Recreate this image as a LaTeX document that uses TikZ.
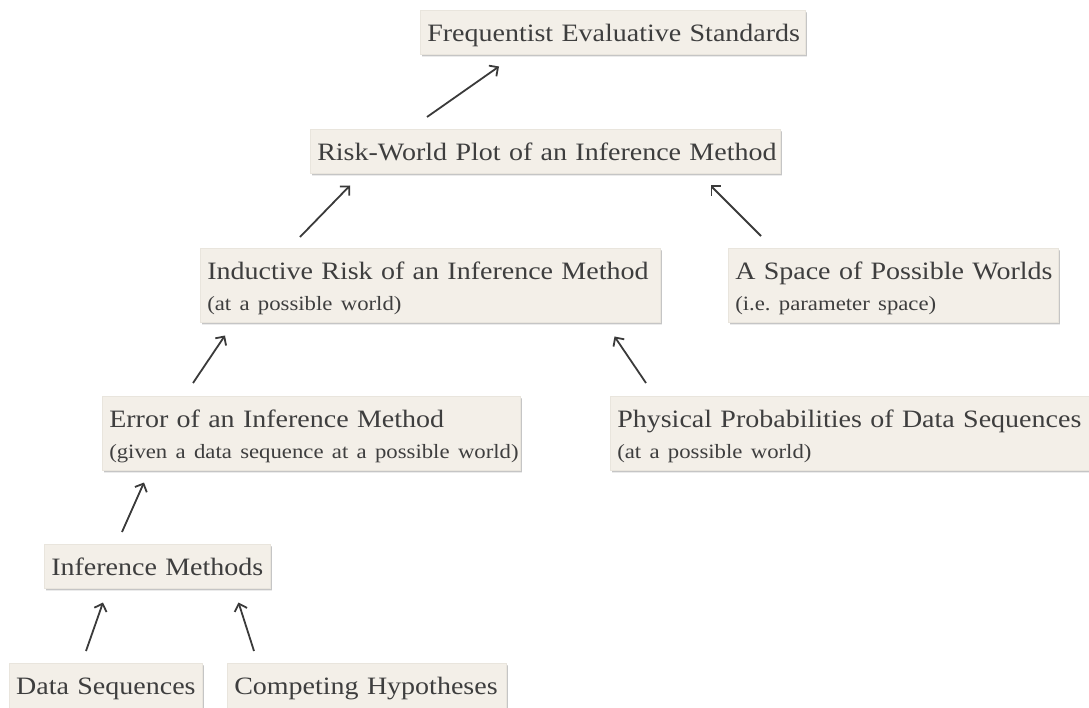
\documentclass[tikz,border=0pt]{standalone}
\usepackage{fontspec}
\setmainfont{Liberation Serif}[FakeStretch=1.12]
\usetikzlibrary{arrows.meta,shadows}
\definecolor{boxfill}{HTML}{F3EFE8}
\definecolor{boxedge}{HTML}{E9E5DD}
\definecolor{textcol}{HTML}{3E3E3E}
\definecolor{arrcol}{HTML}{3A3A3A}
\newcommand\mainsz{\fontsize{25}{31}\selectfont}
\newcommand\subsz{\fontsize{20.3}{31}\selectfont}
\frenchspacing
\tikzset{
  conceptbox/.style={anchor=north west, fill=boxfill, draw=boxedge, line width=0.5pt,
    inner xsep=7pt, inner ysep=0pt, align=left, text=textcol, font=\mainsz,
    text height=31pt,
    drop shadow={shadow xshift=0.6pt, shadow yshift=-1pt, fill=black, opacity=0.2},
    drop shadow={shadow xshift=1.3pt, shadow yshift=-2pt, fill=black, opacity=0.16},
    drop shadow={shadow xshift=2pt, shadow yshift=-3pt, fill=black, opacity=0.08}},
  oneline/.style={conceptbox, text depth=13pt},
  twoline/.style={conceptbox, text depth=43pt},
  arr/.style={draw=arrcol, line width=1.8pt, -{Straight Barb[length=6.5pt,width=13pt,line width=1.8pt]}}
}
\begin{document}
\begin{tikzpicture}[x=1pt,y=-1pt]
\useasboundingbox (0,0) rectangle (1089,708);
\clip (0,0) rectangle (1089,708);
\node[oneline, text width=371pt] (freq) at (420,10) {\mbox{Frequentist Evaluative Standards}};
\node[oneline, text width=456pt] (risk) at (310,129) {\mbox{Risk-World Plot of an Inference Method}};
\node[twoline, text width=446pt] (ind) at (200,248) {\mbox{Inductive Risk of an Inference Method}\\\mbox{\subsz (at a possible world)}};
\node[twoline, text width=316pt] (space) at (728,248) {\mbox{A Space of Possible Worlds}\\\mbox{\subsz (i.e. parameter space)}};
\node[twoline, text width=404pt] (err) at (102,396) {\mbox{Error of an Inference Method}\\\mbox{\subsz (given a data sequence at a possible world)}};
\node[twoline, text width=472pt] (phys) at (610,396) {\mbox{Physical Probabilities of Data Sequences}\\\mbox{\subsz (at a possible world)}};
\node[oneline, text width=212pt] (im) at (44,544) {\mbox{Inference Methods}};
\node[oneline, text width=179pt, text depth=19pt] (data) at (9,663) {\mbox{Data Sequences}};
\node[oneline, text width=265pt, text depth=19pt] (comp) at (227,663) {\mbox{Competing Hypotheses}};
\draw[arr] ([shift={(117,-12)}]risk.north west) -- ([shift={(79,12)}]freq.south west);
\draw[arr] ([shift={(100,-11)}]ind.north west) -- ([shift={(40,12)}]risk.south west);
\draw[arr] ([shift={(33,-12)}]space.north west) -- ([shift={(-70,12)}]risk.south east);
\draw[arr] ([shift={(91,-13)}]err.north west) -- ([shift={(25,13)}]ind.south west);
\draw[arr] ([shift={(36,-13)}]phys.north west) -- ([shift={(-46,14)}]ind.south east);
\draw[arr] ([shift={(78,-12)}]im.north west) -- ([shift={(42,12)}]err.south west);
\draw[arr] ([shift={(77,-12)}]data.north west) -- ([shift={(59,14)}]im.south west);
\draw[arr] ([shift={(27,-12)}]comp.north west) -- ([shift={(-32,14)}]im.south east);
\end{tikzpicture}
\end{document}
